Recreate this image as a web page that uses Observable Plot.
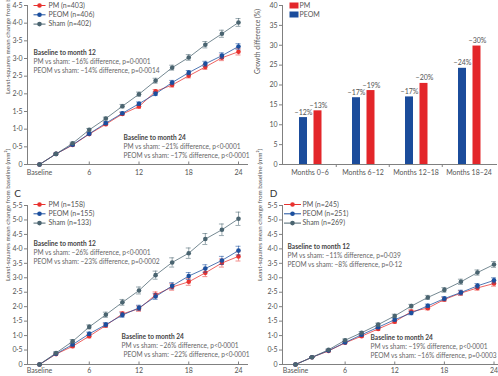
<!DOCTYPE html>
<html><head><meta charset="utf-8">
<script src="https://cdn.jsdelivr.net/npm/d3@7"></script>
<script src="https://cdn.jsdelivr.net/npm/@observablehq/plot@0.6"></script>
<style>
body{margin:0;background:#fff;}
#root{position:relative;width:498px;height:376px;overflow:hidden;background:#fff;}
#root svg{position:absolute;overflow:visible;}
</style></head><body><div id="root"></div>
<script>
// ---------- shared ----------
const months = [0,2,4,6,8,10,12,14,16,18,20,22,24];
const xTickValues = [0,6,12,18,24];
const xTickLabels = ["Baseline","6","12","18","24"];
const seriesNames = ["PM","PEOM","Sham"];
const seriesColors = ["#e8322f","#1b4f9e","#4a6470"];
const yLabel = "Least-squares mean change from baseline (mm²)";

// ---------- panel A ----------
const aPM   = [0,0.30,0.55,0.86,1.14,1.43,1.64,2.07,2.25,2.51,2.76,3.02,3.19];
const aPEOM = [0,0.30,0.56,0.87,1.17,1.45,1.72,2.00,2.32,2.60,2.85,3.08,3.34];
const aSham = [0,0.30,0.60,0.98,1.30,1.65,1.99,2.37,2.74,3.03,3.39,3.70,4.02];
const aPMErr   = [0,0.02,0.02,0.03,0.04,0.04,0.05,0.05,0.06,0.06,0.07,0.08,0.09];
const aPEOMErr = [0,0.02,0.02,0.03,0.04,0.04,0.05,0.05,0.06,0.06,0.07,0.08,0.08];
const aShamErr = [0,0.02,0.03,0.04,0.04,0.05,0.06,0.07,0.07,0.08,0.09,0.10,0.11];
const aLegend = ["PM (n=403)","PEOM (n=406)","Sham (n=402)"];
const aNote12 = ["Baseline to month 12","PM vs sham: −16% difference, p=0·0001","PEOM vs sham: −14% difference, p=0·0014"];
const aNote24 = ["Baseline to month 24","PM vs sham: −21% difference, p<0·0001","PEOM vs sham: −17% difference, p<0·0001"];

// ---------- panel B ----------
const barCats = ["Months 0–6","Months 6–12","Months 12–18","Months 18–24"];
const barPEOM = [11.8,16.8,17.0,24.2];
const barPM   = [13.5,18.6,20.4,29.8];
const barPEOMLabels = ["−12%","−17%","−17%","−24%"];
const barPMLabels   = ["−13%","−19%","−20%","−30%"];
const bLegend = ["PM","PEOM"];
const bYLabel = "Growth difference (%)";

// ---------- panel C ----------
const cPM   = [0,0.36,0.63,0.98,1.35,1.75,1.93,2.41,2.68,2.86,3.17,3.51,3.74];
const cPEOM = [0,0.37,0.69,1.06,1.38,1.71,1.96,2.35,2.72,3.06,3.32,3.60,3.94];
const cSham = [0,0.40,0.80,1.30,1.72,2.15,2.56,3.09,3.53,3.85,4.34,4.66,5.04];
const cPMErr   = [0,0.03,0.05,0.06,0.07,0.08,0.09,0.10,0.11,0.12,0.13,0.14,0.16];
const cPEOMErr = [0,0.03,0.05,0.06,0.07,0.08,0.09,0.10,0.11,0.12,0.13,0.14,0.15];
const cShamErr = [0,0.04,0.06,0.07,0.09,0.10,0.12,0.14,0.16,0.18,0.19,0.20,0.23];
const cLegend = ["PM (n=158)","PEOM (n=155)","Sham (n=133)"];
const cNote12 = ["Baseline to month 12","PM vs sham: −26% difference, p<0·0001","PEOM vs sham: −23% difference, p=0·0002"];
const cNote24 = ["Baseline to month 24","PM vs sham: −26% difference, p<0·0001","PEOM vs sham: −22% difference, p<0·0001"];

// ---------- panel D ----------
const dPM   = [0,0.25,0.47,0.75,0.98,1.23,1.48,1.83,1.95,2.25,2.47,2.65,2.80];
const dPEOM = [0,0.25,0.48,0.76,1.03,1.29,1.55,1.78,2.03,2.28,2.49,2.72,2.91];
const dSham = [0,0.25,0.51,0.84,1.10,1.38,1.68,2.02,2.32,2.58,2.86,3.18,3.46];
const dPMErr   = [0,0.02,0.03,0.03,0.04,0.05,0.05,0.06,0.06,0.07,0.08,0.08,0.09];
const dPEOMErr = [0,0.02,0.03,0.03,0.04,0.05,0.05,0.06,0.06,0.07,0.08,0.08,0.09];
const dShamErr = [0,0.02,0.03,0.04,0.04,0.05,0.06,0.06,0.07,0.08,0.09,0.09,0.10];
const dLegend = ["PM (n=245)","PEOM (n=251)","Sham (n=269)"];
const dNote12 = ["Baseline to month 12","PM vs sham: −11% difference, p=0·039","PEOM vs sham: −8% difference, p=0·12"];
const dNote24 = ["Baseline to month 24","PM vs sham: −19% difference, p<0·0001","PEOM vs sham: −16% difference, p=0·0003"];

// ---------- helpers ----------
const FONT = "Lato, 'Open Sans', sans-serif";
const axisColor = "#808080";
const textColor = "#555";
const noteColor = "#666";
const NOTE_SIZE = 6.6;
const fmtDec = d => d === 0 ? "0" : d3.format(".1f")(d).replace(".", "·");
const root = document.getElementById("root");

function place(svg, left, top) {
  svg.style.left = left + "px";
  svg.style.top = top + "px";
  root.appendChild(svg);
}

function lineSymbol(half) {
  return {draw(ctx) { ctx.moveTo(-half, 0); ctx.lineTo(half, 0); }};
}

function noteMarks(lines, dx, dy, step, dx2) {
  return lines.map((t, i) => Plot.text([t], {
    frameAnchor: "top-left", dx: i === 2 && dx2 != null ? dx2 : dx, dy: dy + i * step,
    textAnchor: "start", lineAnchor: "middle", fontSize: NOTE_SIZE,
    fontWeight: i === 0 ? "bold" : "normal",
    fill: i === 0 ? "#444" : noteColor
  }));
}

function linePanel(cfg) {
  const rows = [];
  seriesNames.forEach((s, k) => {
    cfg.values[k].forEach((v, i) => rows.push({series: s, month: months[i], value: v, err: cfg.errors[k][i]}));
  });
  const eb = rows.filter(d => d.err > 0);
  const marks = [
    Plot.frame({anchor: "left", stroke: axisColor}),
    Plot.frame({anchor: "bottom", stroke: axisColor}),
    Plot.axisY({ticks: cfg.yTicks, tickSize: 3, tickPadding: 2, tickFormat: fmtDec, label: null, stroke: axisColor, fill: textColor}),
    Plot.axisX({ticks: [6,12,18,24], tickSize: -2.5, tickFormat: () => "", label: null, stroke: axisColor}),
    Plot.axisX({ticks: xTickValues, tickFormat: d => xTickLabels[xTickValues.indexOf(d)], tickSize: 0, tickPadding: cfg.xPad, label: null, fill: textColor}),
    Plot.text([yLabel], {frameAnchor: "left", rotate: -90, dx: cfg.yLabelDx, dy: cfg.yLabelDy, fontSize: 6.3, fill: textColor})
  ];
  seriesNames.forEach((s, k) => {
    const r = rows.filter(d => d.series === s);
    const e = eb.filter(d => d.series === s);
    marks.push(
      Plot.line(r, {x: "month", y: "value", stroke: seriesColors[k], strokeWidth: 0.9, strokeOpacity: 0.85}),
      Plot.ruleX(e, {x: "month", y1: d => d.value - d.err, y2: d => d.value + d.err, stroke: seriesColors[k], strokeWidth: 0.7, strokeOpacity: 0.8}),
      Plot.ruleY(e, {y: d => d.value + d.err, x1: d => d.month - 0.3, x2: d => d.month + 0.3, stroke: seriesColors[k], strokeWidth: 0.7, strokeOpacity: 0.8}),
      Plot.ruleY(e, {y: d => d.value - d.err, x1: d => d.month - 0.3, x2: d => d.month + 0.3, stroke: seriesColors[k], strokeWidth: 0.7, strokeOpacity: 0.8}),
      Plot.dot(r, {x: "month", y: "value", fill: seriesColors[k], r: 2.3})
    );
  });
  // legend
  cfg.legend.forEach((t, i) => {
    const dy = cfg.legendDy + i * 9.3;
    marks.push(
      Plot.dot([t], {frameAnchor: "top-left", dx: cfg.legendDotDx, dy, symbol: lineSymbol(cfg.legendHalf), stroke: seriesColors[i], fill: "none", strokeWidth: 1}),
      Plot.dot([t], {frameAnchor: "top-left", dx: cfg.legendDotDx, dy, r: 2.3, fill: seriesColors[i]}),
      Plot.text([t], {frameAnchor: "top-left", dx: cfg.legendTextDx, dy, textAnchor: "start", lineAnchor: "middle", fill: textColor})
    );
  });
  marks.push(...noteMarks(cfg.note12, cfg.n12[0], cfg.n12[1], 9.2));
  marks.push(...noteMarks(cfg.note24, cfg.n24[0], cfg.n24[1], 9.2, cfg.n24[2]));
  if (cfg.letter) {
    marks.push(Plot.text([cfg.letter], {frameAnchor: "top-left", dx: cfg.letterPos[0], dy: cfg.letterPos[1], fontSize: 10, fill: "#333", textAnchor: "middle", lineAnchor: "middle"}));
  }
  const svg = Plot.plot({
    width: cfg.width, height: cfg.height,
    marginLeft: cfg.margin[0], marginRight: cfg.margin[1], marginTop: cfg.margin[2], marginBottom: cfg.margin[3],
    x: {domain: [0, 24], range: cfg.xRange},
    y: {domain: [0, cfg.yMax]},
    style: {fontFamily: FONT, fontSize: "7px", color: textColor, background: "transparent", overflow: "visible"},
    marks
  });
  place(svg, cfg.left, cfg.top);
}

// ---------- build A ----------
linePanel({
  left: 0, top: 0, width: 250, height: 180, margin: [27, 3, 5, 16], xRange: [39, 238], yMax: 4.5,
  yTicks: d3.range(0, 4.51, 0.5), xPad: 5.5,
  values: [aPM, aPEOM, aSham], errors: [aPMErr, aPEOMErr, aShamErr],
  yLabelDx: -20, yLabelDy: 9,
  legend: aLegend, legendDy: 0, legendDotDx: 12, legendHalf: 6, legendTextDx: 21,
  note12: aNote12, n12: [6, 47], note24: aNote24, n24: [96, 132]
});

// ---------- build B ----------
(function () {
  const peomRows = barCats.map((c, i) => ({cat: c, value: barPEOM[i], label: barPEOMLabels[i]}));
  const pmRows = barCats.map((c, i) => ({cat: c, value: barPM[i], label: barPMLabels[i]}));
  const rectSym = {draw(ctx) { ctx.rect(-4.5, -3, 9, 6); }};
  const bw = (246 - 32) / barCats.length;
  const legendColors = ["#e3262a", "#1b4c9b"];
  const marks = [
    Plot.barY(peomRows, {x: "cat", y: "value", fill: "#1b4c9b", insetLeft: 16, insetRight: 29}),
    Plot.barY(pmRows, {x: "cat", y: "value", fill: "#e3262a", insetLeft: 30.5, insetRight: 14.5}),
    Plot.frame({anchor: "left", stroke: axisColor}),
    Plot.frame({anchor: "bottom", stroke: axisColor}),
    Plot.axisY({ticks: d3.range(0, 41, 5), tickSize: 3, tickPadding: 2, label: null, stroke: axisColor, fill: textColor}),
    Plot.axisX({ticks: barCats.slice(1), tickSize: 3, dx: -bw / 2, tickFormat: () => "", label: null, stroke: axisColor}),
    Plot.axisX({tickSize: 0, tickPadding: 5.5, label: null, fill: textColor}),
    Plot.text(peomRows, {x: "cat", y: "value", text: "label", dx: -6.5, dy: -3, lineAnchor: "bottom", fill: textColor}),
    Plot.text(pmRows, {x: "cat", y: "value", text: "label", dx: 8.5, dy: -3, lineAnchor: "bottom", fill: textColor}),
    Plot.text([bYLabel], {frameAnchor: "left", rotate: -90, dx: -25, dy: -11, fontSize: 6.8, fill: textColor})
  ];
  bLegend.forEach((t, i) => {
    marks.push(
      Plot.dot([t], {frameAnchor: "top-left", dx: 11.5, dy: 0 + i * 9, symbol: rectSym, fill: legendColors[i], stroke: "none"}),
      Plot.text([t], {frameAnchor: "top-left", dx: 17, dy: 0 + i * 9, textAnchor: "start", lineAnchor: "middle", fill: textColor})
    );
  });
  const svg = Plot.plot({
    width: 248, height: 180, marginLeft: 32, marginRight: 2, marginTop: 5, marginBottom: 16,
    x: {domain: barCats, padding: 0},
    y: {domain: [0, 40]},
    style: {fontFamily: FONT, fontSize: "7px", color: textColor, background: "transparent", overflow: "visible"},
    marks
  });
  place(svg, 250, 0);
})();

// ---------- build C ----------
linePanel({
  left: 0, top: 180, width: 250, height: 196, margin: [27, 3, 25, 12], xRange: [39, 238], yMax: 5.5,
  yTicks: d3.range(0, 5.51, 0.5), xPad: 4,
  values: [cPM, cPEOM, cSham], errors: [cPMErr, cPEOMErr, cShamErr],
  yLabelDx: -20, yLabelDy: -4,
  legend: cLegend, legendDy: -1, legendDotDx: 12, legendHalf: 6, legendTextDx: 21,
  note12: cNote12, n12: [6, 38], note24: cNote24, n24: [94, 131, 96],
  letter: "C", letterPos: [-10, -12]
});

// ---------- build D ----------
linePanel({
  left: 250, top: 180, width: 248, height: 196, margin: [32, 1, 25, 12], xRange: [45, 243.5], yMax: 5.5,
  yTicks: d3.range(0, 5.51, 0.5), xPad: 4,
  values: [dPM, dPEOM, dSham], errors: [dPMErr, dPEOMErr, dShamErr],
  yLabelDx: -23, yLabelDy: -4,
  legend: dLegend, legendDy: -1, legendDotDx: 10, legendHalf: 8.5, legendTextDx: 20,
  note12: dNote12, n12: [5, 41], note24: dNote24, n24: [88, 132],
  letter: "D", letterPos: [-9, -12]
});
</script></body></html>
